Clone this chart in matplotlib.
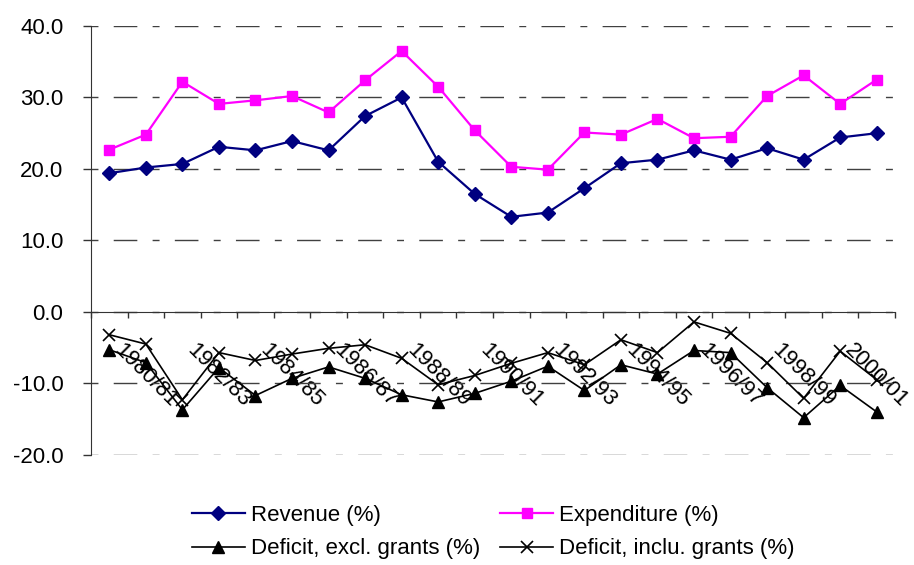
import matplotlib.pyplot as plt
import numpy as np

plt.rcParams['font.family'] = ['Liberation Sans', 'DejaVu Sans']

# fiscal years 1979/80 .. 2000/01
years = ['%d/%02d' % (y, (y + 1) % 100) for y in range(1979, 2001)]

revenue = [19.4, 20.2, 20.7, 23.1, 22.6, 23.9, 22.6, 27.4, 30.0, 21.0, 16.5,
           13.3, 13.9, 17.3, 20.8, 21.3, 22.6, 21.3, 22.9, 21.3, 24.4, 25.0]
expenditure = [22.7, 24.8, 32.2, 29.1, 29.6, 30.2, 27.9, 32.4, 36.5, 31.5, 25.4,
               20.3, 19.9, 25.1, 24.8, 27.0, 24.3, 24.5, 30.2, 33.1, 29.1, 32.5]
deficit_excl = [-5.3, -7.1, -13.7, -7.8, -11.7, -9.3, -7.7, -9.3, -11.6, -12.6, -11.4,
                -9.7, -7.6, -11.0, -7.4, -8.7, -5.4, -5.7, -10.6, -14.8, -10.3, -14.0]
deficit_incl = [-3.2, -4.5, -12.3, -5.7, -6.8, -5.9, -5.1, -4.6, -6.5, -10.2, -8.9,
                -7.2, -5.7, -7.4, -3.9, -5.7, -1.4, -3.0, -7.1, -12.1, -5.5, -9.5]

x = np.arange(len(years))

fig = plt.figure(figsize=(9.14, 5.65), dpi=100)
ax = fig.add_axes([0.0996, 0.195, 0.8796, 0.759])

fs = 16
l1, = ax.plot(x, revenue, color='#000080', lw=1.6, marker='D', ms=7.5,
              label='Revenue (%)')
l2, = ax.plot(x, expenditure, color='#FF00FF', lw=1.6, marker='s', ms=7.5,
              label='Expenditure (%)')
l3, = ax.plot(x, deficit_excl, color='black', lw=1.2, marker='^', ms=8.5,
              label='Deficit, excl. grants (%)')
l4, = ax.plot(x, deficit_incl, color='black', lw=1.2, marker='x', ms=8.5, mew=1.2,
              label='Deficit, inclu. grants (%)')

ax.set_xlim(-0.5, len(years) - 0.5)
ax.set_ylim(-20, 40)
ax.set_yticks(np.arange(-20, 41, 10))
ax.set_yticklabels(['%.1f' % v for v in np.arange(-20, 41, 10)], fontsize=fs)

# category boundaries get the tick marks, every other year gets a label
ax.set_xticks(np.arange(-0.5, len(years), 1.0))
ax.set_xticklabels([])
ax.set_xticks(x[1::2], [years[i] for i in x[1::2]], minor=True)
ax.tick_params(axis='x', which='major', direction='out', length=4.5, width=1,
               color='#333333')
ax.tick_params(axis='x', which='minor', length=0, pad=20, labelsize=fs,
               labelrotation=-45)
for t in ax.get_xticklabels(minor=True):
    t.set_ha('center')
ax.tick_params(axis='y', direction='out', length=6, width=1, color='#333333',
               pad=14)

ax.spines['top'].set_visible(False)
ax.spines['right'].set_visible(False)
ax.spines['bottom'].set_position(('data', 0))
ax.spines['left'].set_color('#333333')
ax.spines['bottom'].set_color('#333333')

ax.yaxis.grid(True, color='#404040', lw=1, linestyle=(0, (5, 11, 17, 11)))
ax.set_axisbelow(True)

fig.legend([l1, l3, l2, l4], [l.get_label() for l in [l1, l3, l2, l4]],
           loc='center', bbox_to_anchor=(0.54, 0.058), ncol=2, frameon=False,
           fontsize=fs, handlelength=2.35, handletextpad=0.3,
           columnspacing=0.9, labelspacing=0.55)

fig.savefig('out.png', dpi=100)
